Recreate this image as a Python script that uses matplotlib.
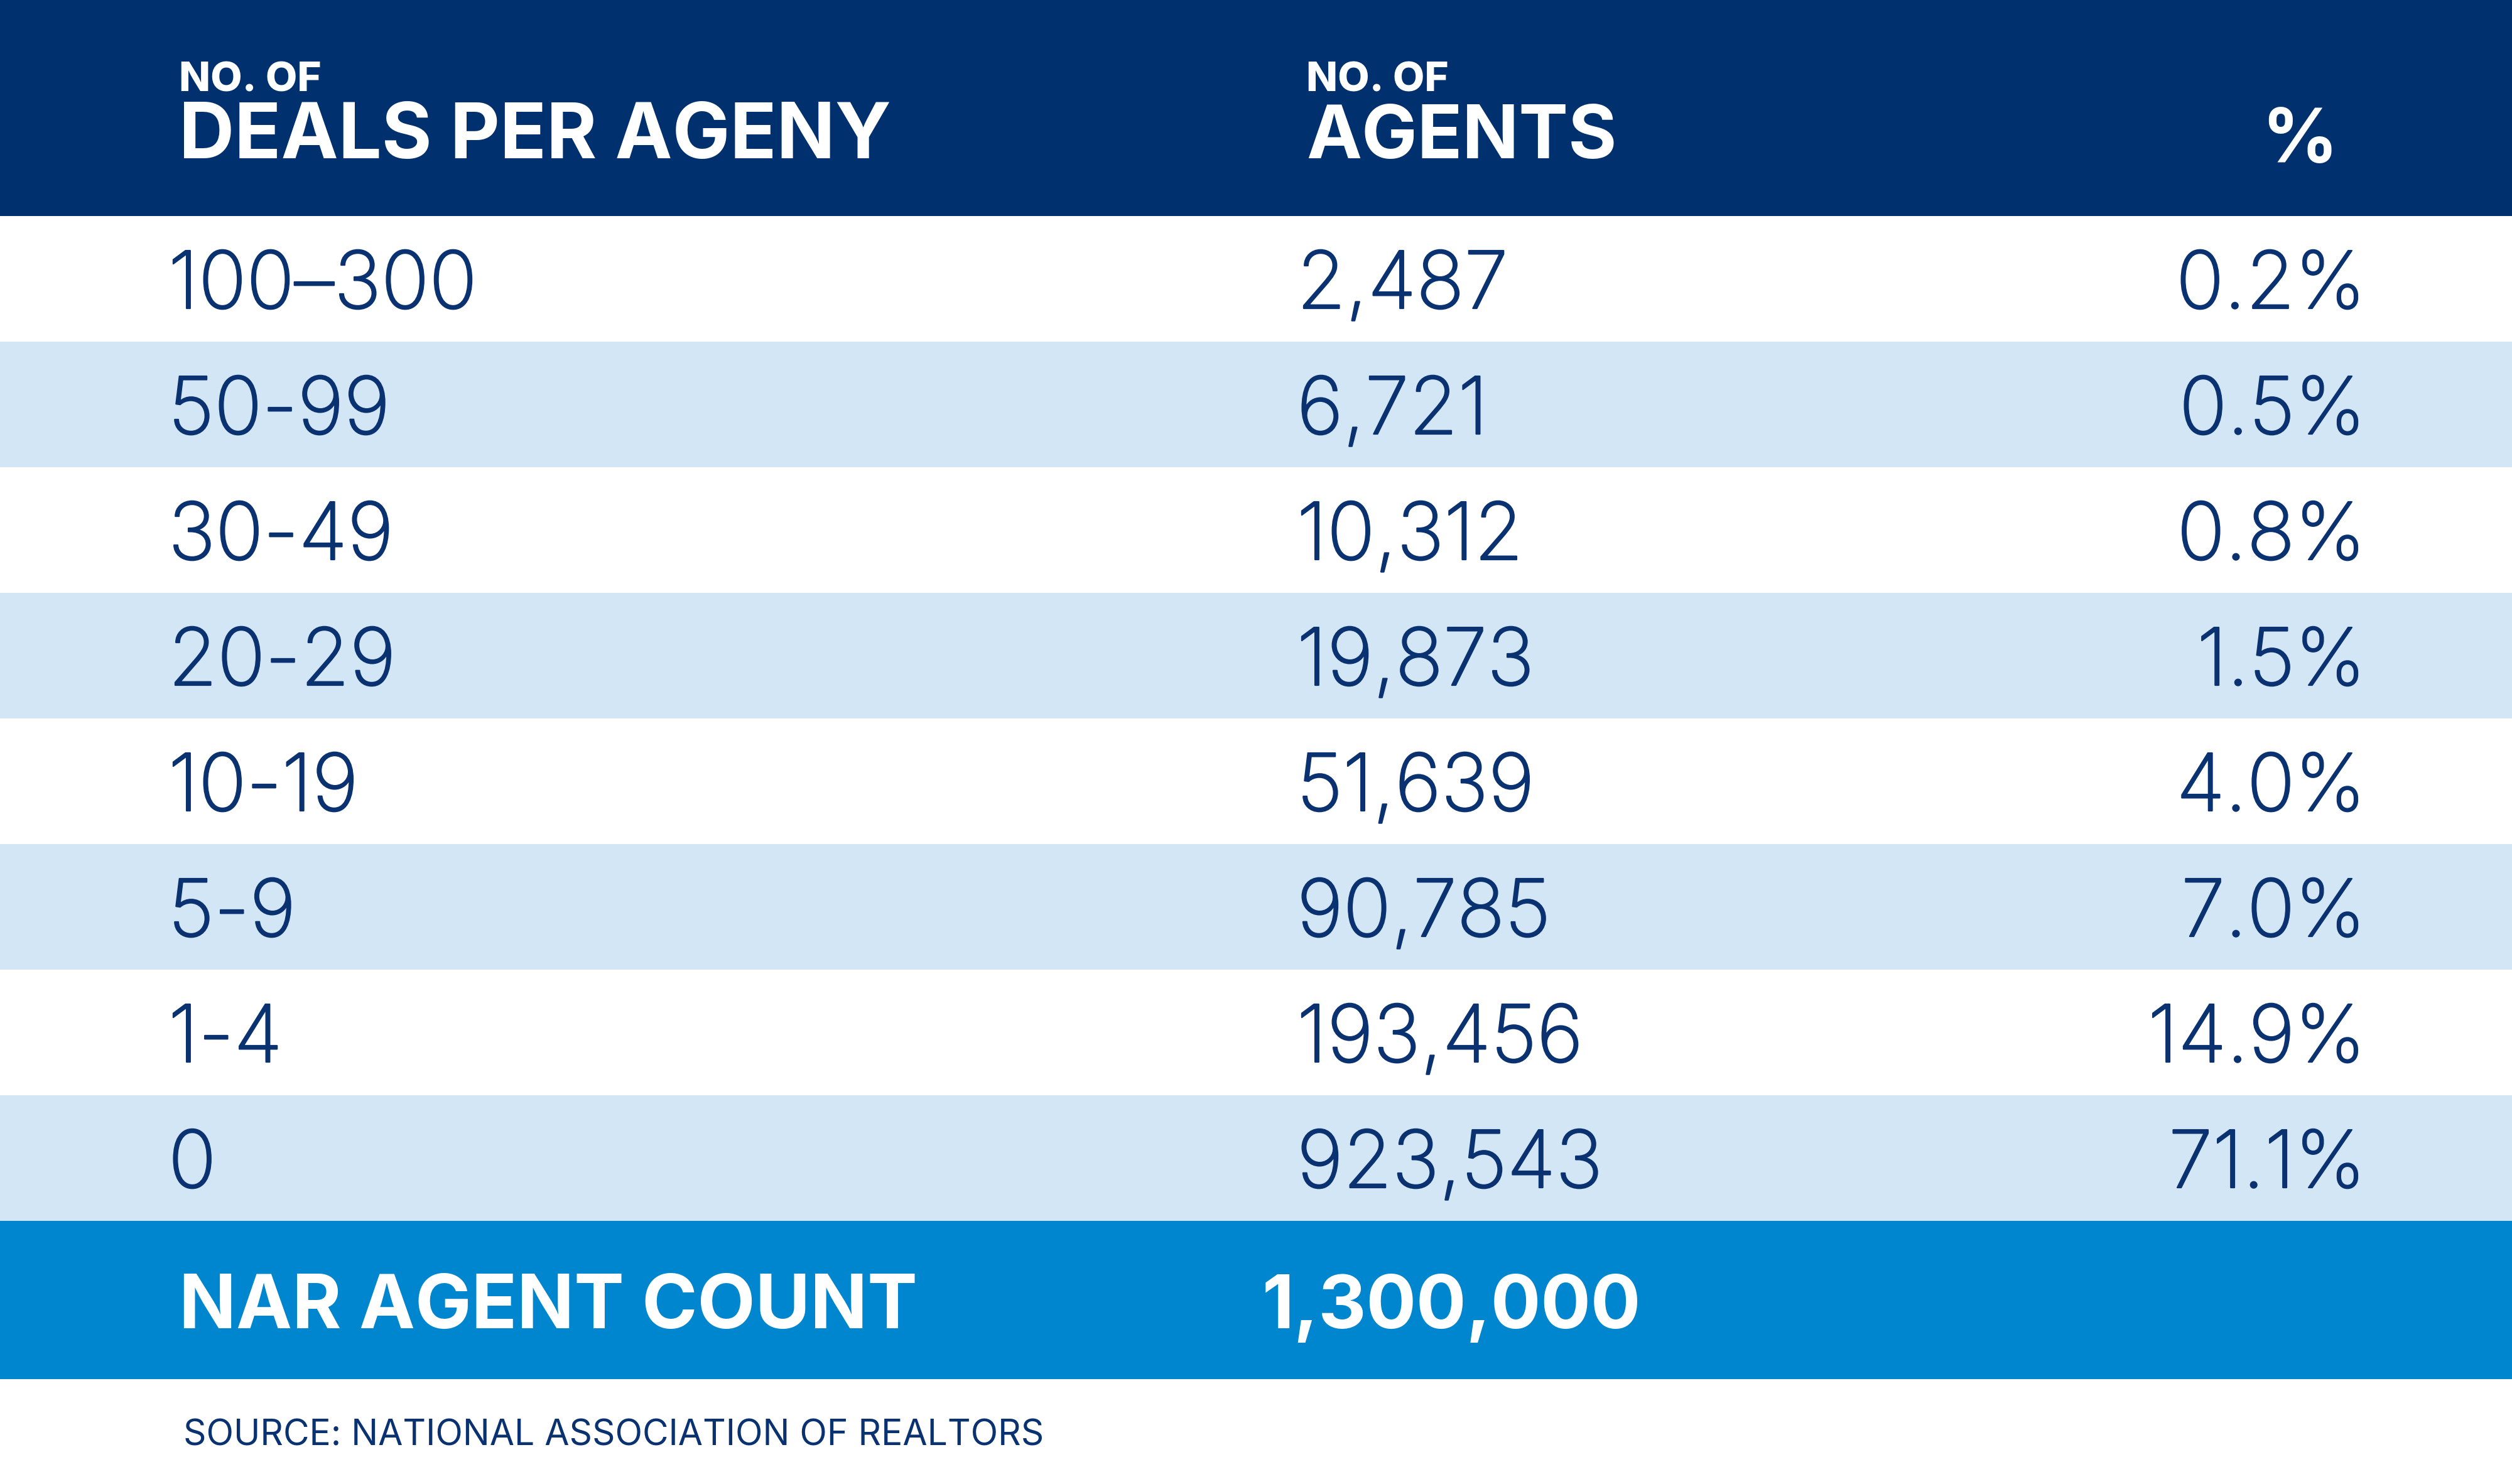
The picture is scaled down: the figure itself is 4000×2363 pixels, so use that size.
import matplotlib
matplotlib.use("Agg")
import matplotlib.pyplot as plt
import matplotlib.patheffects as pe

# ---- data ----
deal_ranges = ["100–300", "50-99", "30-49", "20-29", "10-19", "5-9", "1-4", "0"]
agent_counts = ["2,487", "6,721", "10,312", "19,873", "51,639", "90,785", "193,456", "923,543"]
percents = ["0.2%", "0.5%", "0.8%", "1.5%", "4.0%", "7.0%", "14.9%", "71.1%"]
header_small = ["NO. OF", "NO. OF", ""]
header_big = ["DEALS PER AGENY", "AGENTS", "%"]
total_label = "NAR AGENT COUNT"
total_value = "1,300,000"
source = "SOURCE: NATIONAL ASSOCIATION OF REALTORS"

# ---- style ----
NAVY = "#00306E"
TEXT = "#0A3170"
LIGHT = "#D3E6F5"
BLUE = "#0085CF"
FONT = ["Inter", "DejaVu Sans"]
THICK = [pe.Stroke(linewidth=1.6, foreground=TEXT), pe.Normal()]

W, H = 4000, 2363
fig = plt.figure(figsize=(W / 100, H / 100), dpi=100)
ax = fig.add_axes([0, 0, 1, 1])
ax.set_xlim(0, W)
ax.set_ylim(H, 0)
ax.axis("off")

header_h = 344
row_h = 200
footer_h = 252

# header
ax.axhspan(0, header_h, color=NAVY, lw=0)
col_x = [285, 2080]
ax.text(col_x[0], 145, header_small[0], color="white", fontsize=47, fontweight="heavy",
        family=FONT, va="baseline", ha="left")
ax.text(col_x[0], 252, header_big[0], color="white", fontsize=88, fontweight="bold",
        family=FONT, va="baseline", ha="left")
ax.text(col_x[1], 145, header_small[1], color="white", fontsize=47, fontweight="heavy",
        family=FONT, va="baseline", ha="left")
ax.text(col_x[1], 252, header_big[1], color="white", fontsize=85, fontweight="bold",
        family=FONT, va="baseline", ha="left")
ax.text(3662, 258, header_big[2], color="white", fontsize=86, fontweight="bold",
        family=FONT, va="baseline", ha="center")

# rows
for i, (d, a, p) in enumerate(zip(deal_ranges, agent_counts, percents)):
    top = header_h + i * row_h
    if i % 2 == 1:
        ax.axhspan(top, top + row_h, color=LIGHT, lw=0)
    base = top + 147
    ax.text(268, base, d, color=TEXT, fontsize=91, fontweight="light", family=FONT,
            va="baseline", ha="left", path_effects=THICK)
    ax.text(2065, base, a, color=TEXT, fontsize=91, fontweight="light", family=FONT,
            va="baseline", ha="left", path_effects=THICK)
    ax.text(3767, base, p, color=TEXT, fontsize=91, fontweight="light", family=FONT,
            va="baseline", ha="right", path_effects=THICK)

# footer
ftop = header_h + len(deal_ranges) * row_h
ax.axhspan(ftop, ftop + footer_h, color=BLUE, lw=0)
ax.text(285, ftop + 171, total_label, color="white", fontsize=86, fontweight="bold",
        family=FONT, va="baseline", ha="left")
ax.text(2010, ftop + 171, total_value, color="white", fontsize=85, fontweight="bold",
        family=FONT, va="baseline", ha="left")

# source
ax.text(292, 2301, source, color=TEXT, fontsize=41, family=FONT, va="baseline", ha="left")

fig.savefig("out.png", dpi=100, facecolor="white")
